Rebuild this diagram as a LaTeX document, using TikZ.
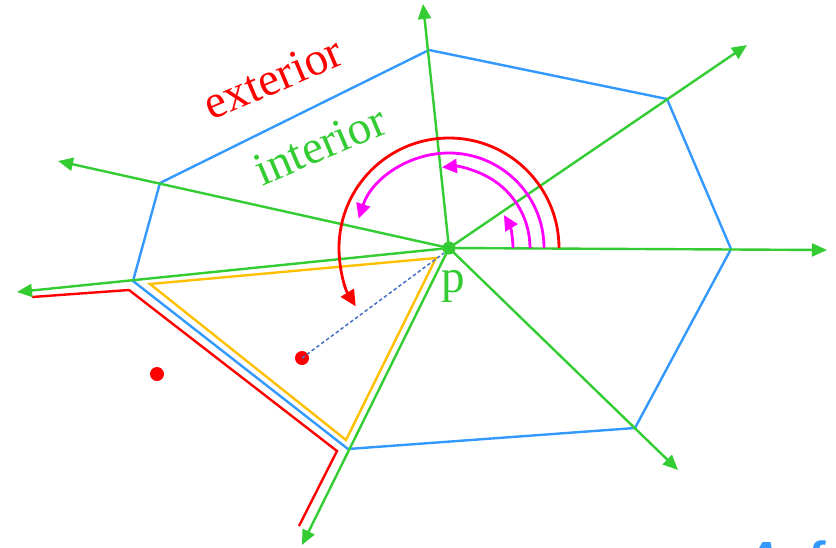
\documentclass[tikz,border=0pt]{standalone}
\usepackage{fontspec}
\setmainfont{Liberation Serif}
\newfontfamily\blueface{Liberation Sans}
\usetikzlibrary{arrows.meta,calc}
\definecolor{cgreen}{HTML}{33CC33}
\definecolor{cblue}{HTML}{3399FF}
\definecolor{cred}{HTML}{FF0000}
\definecolor{cmag}{HTML}{FF00FF}
\definecolor{cyel}{HTML}{FFC000}
\definecolor{cdash}{HTML}{4472C4}
\tikzset{
  ray/.style={draw=cgreen, line width=2.4pt, -{Triangle[length=15pt,width=13pt]}},
  cell/.style={draw=cblue, line width=2.4pt, line join=miter},
  outer/.style={draw=cred, line width=2.4pt},
  inner/.style={draw=cyel, line width=2.4pt},
  marc/.style={draw=cmag, line width=2.8pt, -{Triangle[length=15pt,width=14pt]}},
  rarc/.style={draw=cred, line width=2.8pt, -{Triangle[length=16pt,width=15pt]}},
  dot/.style={circle, fill=cred, inner sep=0pt, minimum size=14pt},
  lbl/.style={font=\fontsize{47}{50}\selectfont, inner sep=0pt},
}
\begin{document}
\begin{tikzpicture}[x=1pt,y=-1pt]
\clip (0,0) rectangle (836,547);
\fill[white] (0,0) rectangle (836,547);
% cell vertices
\coordinate (v1) at (429,50);
\coordinate (v2) at (667,99);
\coordinate (v3) at (731,249);
\coordinate (v4) at (635,428);
\coordinate (v5) at (348,449);
\coordinate (v6) at (133,281);
\coordinate (v7) at (160,183);
% ray tips
\coordinate (t1) at (423,4);
\coordinate (t2) at (747,45);
\coordinate (t3) at (827,250);
\coordinate (t4) at (678,470);
\coordinate (t5) at (302,545);
\coordinate (t6) at (17,292);
\coordinate (t7) at (58,161);
\coordinate (pc) at (449,248);
% cell
\draw[cell] (v1) -- (v2) -- (v3) -- (v4) -- (v5) -- (v6) -- (v7) -- cycle;
% exterior offset
\coordinate (r1) at (32,297);
\coordinate (r2) at (129,290);
\coordinate (r3) at (337,451);
\coordinate (r4) at (299,526);
\draw[outer] (r1) -- (r2) -- (r3) -- (r4);
% interior offset
\coordinate (y1) at (150,284);
\coordinate (y2) at (436,258);
\coordinate (y3) at (346,440);
\draw[inner] (y1) -- (y2) -- (y3) -- cycle;
% dots
\node[dot] (d1) at (157,374) {};
\node[dot] (d2) at (302,358) {};
\draw[cdash, line width=1.5pt, dash pattern=on 3.5pt off 2.5pt] (d2.center) -- (444,253);
% rays
\foreach \t in {t1,t2,t3,t4,t5,t6,t7} \draw[ray] (pc) -- (\t);
% arcs
\draw[rarc] ($(pc)+(110,0)$) arc[start angle=0, end angle=-212, radius=110];
\draw[marc] ($(pc)+(95,0)$) arc[start angle=0, end angle=-162, radius=95];
\draw[marc] ($(pc)+(81,0)$) arc[start angle=0, end angle=-95, radius=81];
\draw[marc] ($(pc)+(64,0)$) arc[start angle=0, end angle=-31, radius=64];
\node[circle, fill=cgreen, inner sep=0pt, minimum size=13pt] (p) at (pc) {};
% labels
\node[lbl, text=cgreen, anchor=base] (plbl) at (453,292) {p};
\node[lbl, text=cred, rotate=23] (ext) at (273,78) {exterior};
\node[lbl, text=cgreen, rotate=23] (int) at (320,145) {interior};
\node[font=\blueface\bfseries\itshape\fontsize{48}{50}\selectfont, text=cblue, anchor=base west, inner sep=0pt] (cut) at (745,575) {Aef};
\end{tikzpicture}
\end{document}
